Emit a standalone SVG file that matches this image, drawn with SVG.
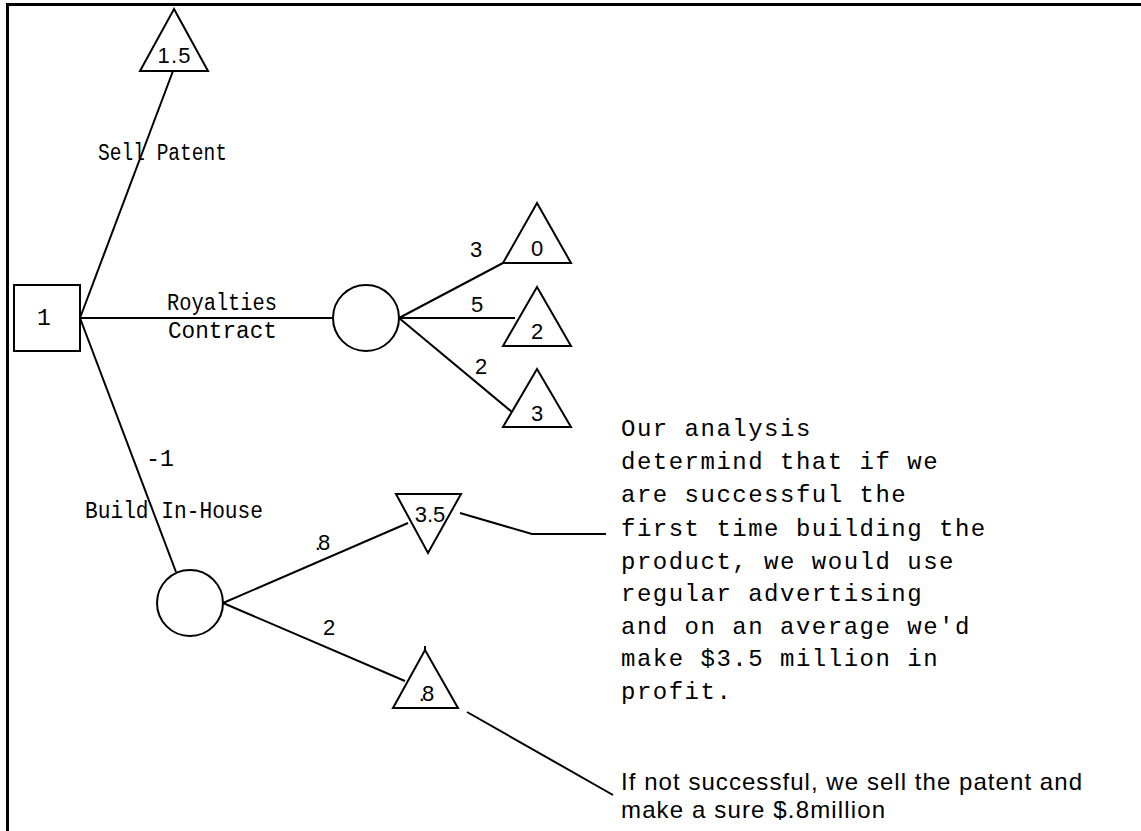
<svg xmlns="http://www.w3.org/2000/svg" width="1141" height="831" viewBox="0 0 1141 831">
<style>
.ln{stroke:#000;stroke-width:2;fill:none}
.sh{stroke:#000;stroke-width:2;fill:#fff}
.mono{font-family:"Liberation Mono","Courier New",monospace;font-size:23px;fill:#000}
.num{font-family:"Liberation Sans",Arial,sans-serif;font-size:22px;fill:#000;text-anchor:middle}
.note{font-family:"Liberation Mono","Courier New",monospace;font-size:24px;letter-spacing:1.5px;fill:#000}
.sans{font-family:"Liberation Sans",Arial,sans-serif;font-size:24px;fill:#000}
</style>
<rect width="1141" height="831" fill="#fff"/>
<g id="frame">
<path d="M7.5,831 V4.5 H1141" stroke="#000" stroke-width="3" fill="none"/>
</g>
<g id="connectors">
<line class="ln" x1="80" y1="318" x2="173" y2="71"/>
<line class="ln" x1="80" y1="318" x2="333" y2="318"/>
<line class="ln" x1="80" y1="318" x2="176" y2="572"/>
<line class="ln" x1="399" y1="318" x2="503" y2="263"/>
<line class="ln" x1="399" y1="318" x2="515" y2="318"/>
<line class="ln" x1="399" y1="318" x2="512" y2="412"/>
<line class="ln" x1="223" y1="603" x2="408" y2="523"/>
<line class="ln" x1="223" y1="603" x2="405" y2="681"/>
<polyline class="ln" points="460,513 532,534 606,534"/>
<line class="ln" x1="467" y1="712" x2="613" y2="795"/>
</g>
<g id="decision">
<rect class="sh" x="14" y="285" width="66" height="66"/>
<text class="mono" x="44" y="325" text-anchor="middle">1</text>
</g>
<g id="end-sell">
<polygon class="sh" points="174,9 208,71 140,71"/>
<text class="num" x="174" y="63" textLength="33">1.5</text>
</g>
<g id="chance-royalties">
<circle class="sh" cx="366" cy="318" r="33"/>
</g>
<g id="end-0">
<polygon class="sh" points="537,203 571,263 503,263"/>
<text class="num" x="537" y="256">0</text>
</g>
<g id="end-2">
<polygon class="sh" points="537,287 571,346 503,346"/>
<text class="num" x="537" y="339">2</text>
</g>
<g id="end-3">
<polygon class="sh" points="537,369 571,427 503,427"/>
<text class="num" x="537" y="421">3</text>
</g>
<g id="chance-build">
<circle class="sh" cx="190" cy="603" r="33"/>
</g>
<g id="end-3-5">
<polygon class="sh" points="396,494 461,494 428,553"/>
<text class="num" x="430" y="522">3.5</text>
</g>
<g id="end-0-8">
<polygon class="sh" points="425,650 458,708 393,708"/>
<line class="ln" x1="425" y1="646" x2="425" y2="651"/>
<text class="num" x="425" y="701" letter-spacing="-3">.8</text>
</g>
<g id="labels">
<text class="mono" x="98" y="160" textLength="129" lengthAdjust="spacingAndGlyphs">Sell Patent</text>
<text class="mono" x="167" y="310" textLength="110" lengthAdjust="spacingAndGlyphs">Royalties</text>
<text class="mono" x="168" y="338" textLength="109" lengthAdjust="spacingAndGlyphs">Contract</text>
<text class="mono" x="85" y="518" textLength="178" lengthAdjust="spacingAndGlyphs">Build In-House</text>
<text class="mono" x="146" y="466" textLength="28" lengthAdjust="spacingAndGlyphs">-1</text>
<text class="num" x="476" y="257">3</text>
<text class="num" x="477" y="312">5</text>
<text class="num" x="481" y="374">2</text>
<text class="num" x="321" y="550" letter-spacing="-3">.8</text>
<text class="num" x="329" y="635">2</text>
</g>
<g id="note-success">
<text class="note" x="621" y="436">Our analysis</text>
<text class="note" x="621" y="469">determind that if we</text>
<text class="note" x="621" y="502">are successful the</text>
<text class="note" x="621" y="536">first time building the</text>
<text class="note" x="621" y="569">product, we would use</text>
<text class="note" x="621" y="601">regular advertising</text>
<text class="note" x="621" y="634">and on an average we'd</text>
<text class="note" x="621" y="666">make $3.5 million in</text>
<text class="note" x="621" y="699">profit.</text>
</g>
<g id="note-fail">
<text class="sans" x="621" y="790" textLength="461">If not successful, we sell the patent and</text>
<text class="sans" x="621" y="818" textLength="264">make a sure $.8million</text>
</g>
</svg>
